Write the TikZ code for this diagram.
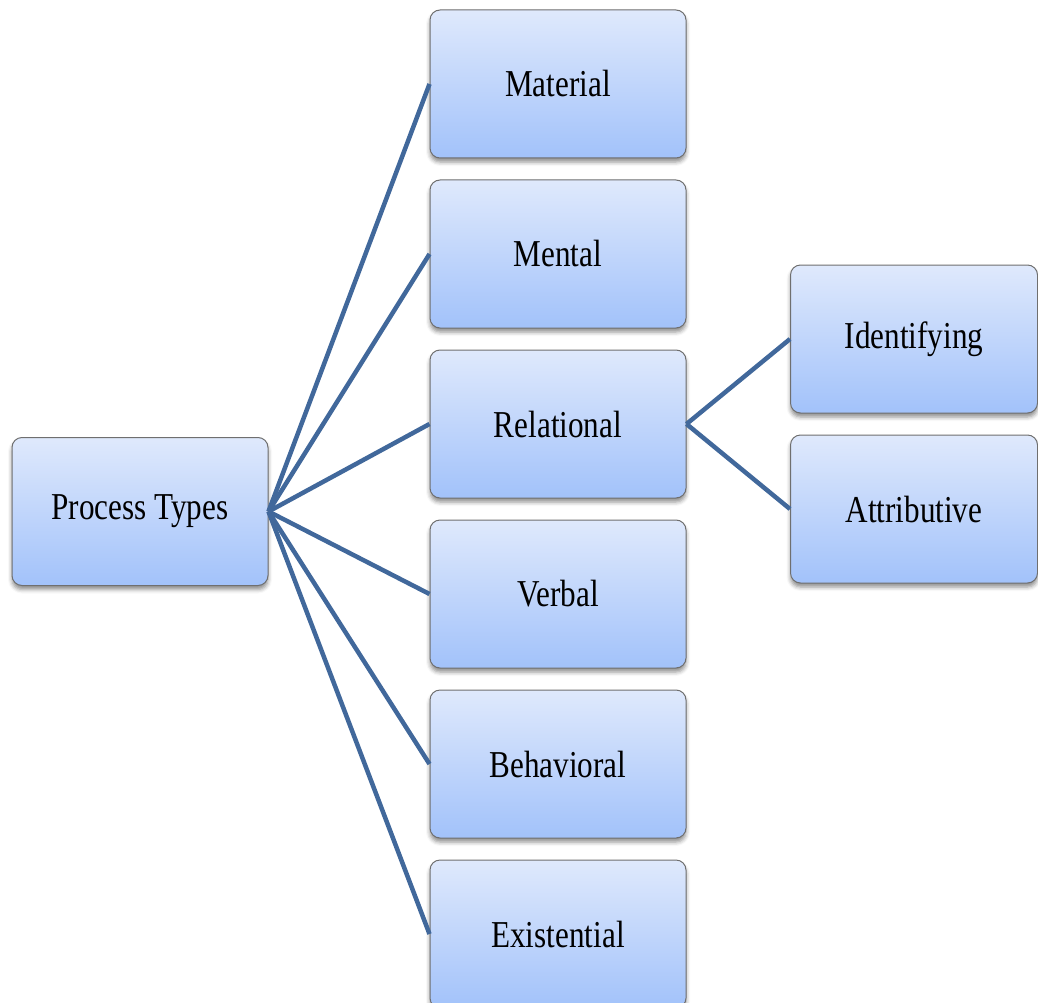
\documentclass[tikz,border=0pt]{standalone}
\usepackage{fontspec}
\setmainfont{Liberation Serif}[FakeStretch=0.82]
\usetikzlibrary{shadows.blur}
\definecolor{boxtop}{HTML}{DFE9FC}
\definecolor{boxbot}{HTML}{A2C2FA}
\definecolor{boxline}{HTML}{6F6F6F}
\definecolor{linkcol}{HTML}{41689B}
\begin{document}
\begin{tikzpicture}[x=1pt,y=-1pt,
  typebox/.style={draw=boxline, line width=1pt, rounded corners=10pt,
    top color=boxtop, bottom color=boxbot,
    minimum width=256pt, minimum height=148pt, inner sep=0pt,
    font=\fontsize{38}{40}\selectfont,
    blur shadow={shadow xshift=0pt, shadow yshift=-4pt, shadow blur radius=4pt, shadow opacity=45}},
  subbox/.style={typebox, minimum width=247pt},
  link/.style={draw=linkcol, line width=4.5pt}]
\useasboundingbox (0,0) rectangle (1038,1003);
% root node
\node[typebox] (root) at (140,511.5) {Process Types};
% process categories
\node[typebox] (mat) at (558,84) {Material};
\node[typebox] (men) at (558,254) {Mental};
\node[typebox] (rel) at (558,424) {Relational};
\node[typebox] (ver) at (558,594) {Verbal};
\node[typebox] (beh) at (558,764) {Behavioral};
\node[typebox] (exi) at (558,934) {Existential};
% relational subtypes
\node[subbox] (ide) at (914,339) {Identifying};
\node[subbox] (att) at (914,509) {Attributive};
% connectors
\foreach \n in {mat,men,rel,ver,beh,exi}
  \draw[link] (root.east) -- (\n.west);
\draw[link] (rel.east) -- (ide.west);
\draw[link] (rel.east) -- (att.west);
\end{tikzpicture}
\end{document}
